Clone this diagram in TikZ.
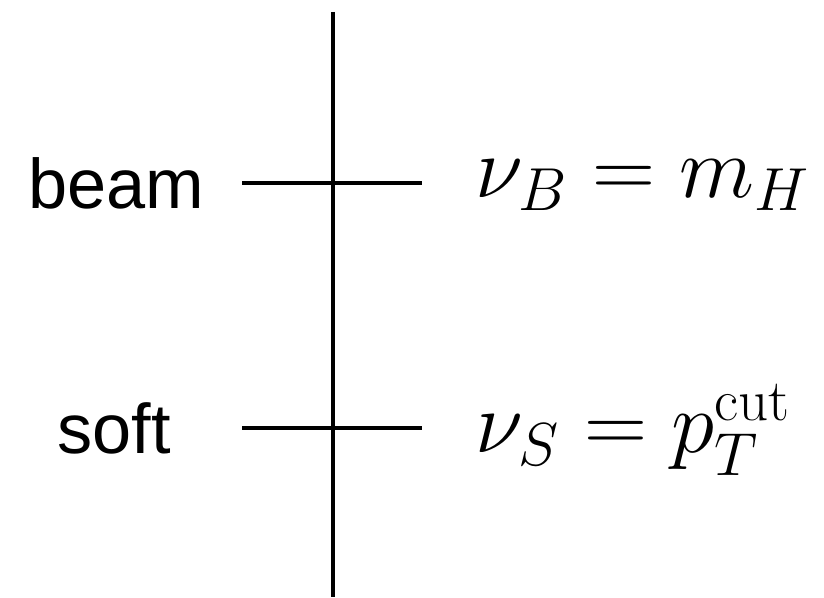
\documentclass[tikz,border=0pt]{standalone}
\usepackage{amsmath,amssymb}
\usepackage{fontspec}
\setsansfont{Liberation Sans}
\usepackage{tikz}
\usetikzlibrary{positioning}

\tikzset{
  scalelabel/.style={font=\sffamily\fontsize{20}{24}\selectfont},
  scalevalue/.style={anchor=west,font=\fontsize{24}{28}\selectfont},
}

\begin{document}
\begin{tikzpicture}[x=1cm,y=1cm,line width=1.2pt]
  \useasboundingbox (0,0) rectangle (8.24,5.97);
  % the axis
  \coordinate (axtop) at (3.33,5.85);
  \coordinate (axbot) at (3.33,0);
  \draw (axtop) -- (axbot);
  % the two scales
  \coordinate (beamL) at (2.42,4.14);
  \coordinate (beamR) at (4.22,4.14);
  \coordinate (softL) at (2.42,1.69);
  \coordinate (softR) at (4.22,1.69);
  \draw (beamL) -- (beamR);
  \draw (softL) -- (softR);
  \node[scalelabel] (beam) at (1.16,4.14) {beam};
  \node[scalelabel] (soft) at (1.14,1.69) {soft};
  \node[scalevalue] (nuB) at (4.62,4.12) {$\nu_B = m_H$};
  \node[scalevalue] (nuS) at (4.62,1.67) {$\nu_S = p_T^{\text{cut}}$};
\end{tikzpicture}
\end{document}
